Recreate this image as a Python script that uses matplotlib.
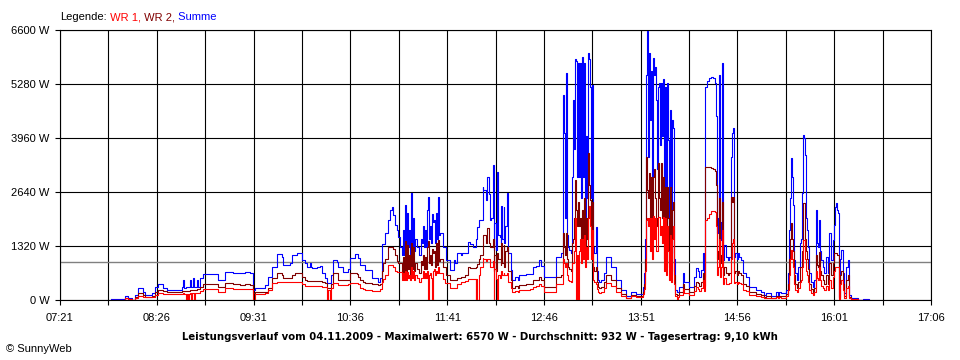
import matplotlib
matplotlib.use('Agg')
import matplotlib.pyplot as plt
import numpy as np

# sample times in minutes after midnight, 04.11.2009
t_min = [
    475.3, 484.0, 484.7, 486.7, 489.4, 491.4, 493.5, 496.1, 496.8, 498.2,
    501.5, 502.9, 504.9, 506.9, 509.6, 510.3, 512.9, 521.7, 523.0, 523.7,
    524.4, 525.7, 526.4, 527.1, 527.7, 528.4, 529.1, 529.8, 530.4, 531.1,
    531.8, 533.1, 533.8, 535.1, 537.2, 546.6, 547.2, 550.6, 552.0, 557.3,
    562.0, 565.4, 568.8, 570.8, 572.1, 577.5,
    578.8, 580.9, 583.5, 585.6, 586.9, 588.9, 590.3, 590.9, 594.3, 595.7,
    597.0, 599.0, 600.4, 603.1, 603.7, 605.7, 607.1, 609.1, 609.8, 610.4,
    612.5, 613.8, 615.8, 617.2, 619.2, 620.5, 621.2, 622.5, 623.2, 624.6,
    627.3, 627.9, 630.6, 631.3, 634.0, 634.7, 636.0, 638.0, 639.4, 640.7,
    641.4, 642.7, 644.7, 646.1, 649.4, 650.8, 654.2, 654.8, 656.2, 657.5,
    658.2, 659.5, 661.5, 662.9, 664.2, 664.9, 666.3, 667.6, 668.3, 669.6,
    671.0, 671.6, 672.3, 673.0, 673.7, 674.3, 675.0, 675.7, 676.3, 677.0,
    677.7, 678.4, 679.0, 679.7, 681.1, 682.4, 683.1, 683.7, 684.4, 685.1,
    685.8, 686.4, 687.1, 687.8, 688.4, 689.1, 689.8, 690.5, 691.1, 691.8,
    692.5, 693.2, 693.8, 694.5, 695.2, 695.8, 696.5, 697.9, 698.5, 699.9,
    700.5, 701.9, 703.2, 704.6, 705.3, 706.6, 707.9, 710.0, 711.3, 713.3,
    714.7, 716.7, 718.0, 718.7, 720.1, 720.7, 721.4, 722.1, 723.4, 724.8,
    725.4, 726.8, 728.1, 728.8, 730.1, 730.8, 731.5, 732.2, 732.8, 733.5,
    734.8, 735.5, 736.2, 736.9, 737.5, 738.2, 738.9, 739.5, 740.2, 740.9,
    741.6, 742.2, 743.6, 744.9, 746.9, 748.3, 749.0, 753.7, 757.0, 758.4,
    760.4, 762.4, 763.8, 765.8, 772.5, 773.8, 775.9, 777.2, 778.5, 779.2,
    779.9, 780.6, 781.2, 781.9, 782.6, 783.9, 784.6, 785.3, 785.9, 786.6,
    787.3, 788.0, 788.6, 789.3, 790.0, 790.7, 791.3, 792.0, 792.7, 793.3,
    794.0, 794.7, 795.4, 796.0, 796.7, 797.4, 798.0, 798.7, 799.4, 800.7,
    801.4, 802.1, 802.8,
    804.1, 805.4, 806.1, 807.5, 809.5, 810.8, 812.8, 814.2, 816.2, 817.5,
    819.6, 820.9, 822.9, 824.3, 826.3, 827.6, 831.0, 832.3, 833.0, 833.7,
    834.4, 835.0, 835.7, 836.4, 837.0, 837.7, 838.4, 839.1, 839.7, 840.4,
    841.1, 841.7, 842.4, 843.1, 843.8, 844.4, 845.1, 845.8, 846.5, 847.1,
    847.8, 848.5, 849.1, 849.8, 850.5, 851.2, 851.8, 852.5, 853.2, 853.9,
    855.2, 855.9, 856.5, 857.9, 859.2, 859.9, 862.6, 863.3, 866.0, 866.6,
    868.0, 869.3, 870.0, 871.3, 872.7, 873.4, 874.0, 875.4, 876.7, 878.1,
    879.4, 880.1, 880.8, 881.4, 882.1, 882.8, 883.4, 884.1, 884.8, 885.5,
    886.1, 886.8, 888.2, 889.5, 890.2, 891.5, 892.2, 892.9, 893.5, 894.2,
    895.5, 896.2, 896.9, 898.2, 899.6, 901.6, 903.6, 907.0, 908.3, 911.7,
    913.7,
    915.0, 917.1, 918.4, 920.4, 921.8, 923.1, 923.8, 925.1, 927.2, 928.5,
    929.8, 930.5, 931.2, 931.9, 932.5, 933.2, 933.9, 934.5, 935.9, 936.6,
    937.9, 938.6, 939.2, 939.9, 940.6, 941.3, 941.9, 942.6, 943.3, 944.0,
    945.3, 946.6, 947.3, 948.7, 949.3, 950.0, 950.7, 951.4, 952.0, 953.4,
    954.0, 955.4, 956.7, 957.4, 958.8, 960.1, 960.8, 961.4, 962.1, 962.8,
    963.5, 964.1, 964.8, 965.5, 966.8, 967.5, 968.8, 970.2, 970.9, 972.2,
    975.6, 976.9, 980.3, 983.6, 984.3,
]

# Summe (W)
summe = [
    25, 25, 90, 40, 0, 120, 285, 285, 200, 120,
    120, 180, 310, 390, 390, 285, 245, 245, 310, 490,
    300, 320, 320, 310, 310, 490, 320, 320, 540, 320,
    330, 500, 330, 535, 635, 635, 490, 490, 690, 670,
    650, 680, 650, 245, 285, 285,
    367, 570, 815, 815, 1124, 1124, 1059, 855, 855, 896,
    1100, 1100, 1141, 1160, 978, 896, 815, 900, 815, 774,
    774, 800, 830, 660, 540, 415, 415, 415, 600, 978,
    940, 815, 815, 692, 692, 750, 1018, 1018, 1116, 1116,
    1018, 855, 855, 733, 733, 530, 530, 448, 530, 1369,
    1369, 1630, 1955, 2200, 2265, 2077, 1833, 1700, 1548, 1300,
    1100, 1711, 1100, 2322, 1150, 2120, 1300, 1700, 1100, 2607,
    1300, 2000, 1200, 1500, 1300, 1100, 1100, 1500, 1400, 1800,
    1300, 1700, 1300, 2200, 2525, 1500, 1800, 1400, 2100, 1900,
    1955, 1400, 2119, 1500, 2525, 1600, 1630, 1630, 1304, 1304,
    978, 978, 733, 733, 978, 900, 1160, 1100, 1141, 1141,
    1426, 1380, 1380, 1304, 1470, 1500, 1793, 1955, 1955, 2770,
    2700, 2450, 3015, 2600, 1955, 2000, 3300, 1222, 1880, 1222,
    3137, 1600, 1530, 1400, 2300, 1500, 2280, 1400, 1800, 2607,
    1222, 1141, 733, 489, 570, 489, 600, 635, 635, 815,
    840, 978, 840, 570, 570, 1059, 1059, 1141, 5010, 4074,
    2000, 5540, 1600, 1304, 1222, 1141, 3000, 4889, 3700, 5883,
    5850, 3000, 5800, 3000, 5800, 2500, 5948, 3000, 5800, 2000,
    4000, 2500, 6030, 5900, 5214, 2500, 5250, 1304, 1141, 1793,
    700, 489, 450,
    489, 489, 652, 1059, 1059, 815, 815, 489, 489, 244,
    244, 100, 100, 204, 204, 150, 150, 326, 652, 1500,
    5500, 6570, 3500, 6030, 4400, 5600, 3000, 5907, 5500, 5700,
    4900, 3200, 5200, 5300, 3800, 5296, 4000, 5400, 1700, 5214,
    1500, 5300, 3911, 1300, 4644, 1141, 4400, 4200, 1000, 244,
    200, 200, 326, 326, 652, 450, 450, 326, 326, 570,
    774, 700, 570, 733, 1141, 570, 5214, 5350, 5418, 5459,
    5418, 5418, 5300, 4500, 1630, 2000, 5500, 1467, 1900, 5785,
    978, 1350, 1050, 978, 1060, 3500, 4074, 4196, 1060, 1141,
    1000, 1141, 1060, 978, 652, 570, 326, 326, 244, 200,
    122,
    179, 179, 100, 100, 200, 122, 200, 163, 163, 244,
    652, 1711, 2500, 3463, 3000, 2322, 978, 652, 489, 815,
    1385, 1500, 2607, 4033, 3950, 3544, 2000, 1711, 1300, 652,
    448, 326, 489, 2200, 1400, 1300, 1955, 1200, 978, 815,
    652, 1059, 652, 1630, 978, 1467, 1833, 2281, 2363, 2200,
    2120, 81, 1000, 1222, 652, 163, 815, 978, 122, 41,
    41, 0, 24, 24, 0,
]

# WR 2 (W)
wr2 = [
    10, 10, 50, 20, 0, 70, 170, 170, 120, 75,
    75, 110, 200, 244, 244, 210, 195, 195, 220, 230,
    220, 230, 230, 230, 230, 240, 240, 240, 250, 250,
    250, 280, 280, 330, 390, 390, 310, 310, 407, 380,
    367, 380, 367, 180, 200, 200,
    204, 300, 530, 530, 668, 668, 620, 530, 530, 530,
    600, 668, 668, 668, 560, 480, 465, 470, 465, 465,
    465, 470, 465, 440, 420, 300, 300, 300, 400, 652,
    652, 489, 489, 489, 489, 500, 652, 652, 652, 640,
    560, 480, 450, 407, 407, 380, 380, 360, 380, 700,
    896, 1000, 1304, 1304, 1304, 1250, 1100, 950, 896, 896,
    600, 1050, 600, 1450, 650, 1350, 750, 1100, 600, 1390,
    750, 1300, 700, 900, 750, 650, 650, 950, 850, 1100,
    750, 1050, 750, 1300, 1450, 900, 1100, 850, 1250, 1150,
    1200, 800, 1400, 850, 1467, 950, 1000, 1000, 800, 815,
    600, 600, 489, 489, 489, 489, 540, 570, 570, 600,
    815, 790, 790, 790, 800, 800, 870, 1000, 1100, 1467,
    1600, 1400, 1750, 1400, 1300, 1300, 1500, 700, 1100, 700,
    1150, 1000, 1000, 850, 1400, 900, 1350, 800, 1200, 1300,
    750, 700, 500, 300, 350, 300, 360, 380, 390, 480,
    480, 560, 480, 326, 326, 570, 570, 600, 1630, 1300,
    1100, 1630, 1000, 800, 750, 700, 1400, 1500, 2000, 2933,
    2200, 1800, 2400, 1800, 2000, 1300, 2200, 1500, 2500, 1100,
    2000, 1500, 3585, 2800, 2444, 1500, 2400, 800, 700, 800,
    430, 326, 300,
    326, 326, 450, 611, 611, 489, 489, 300, 300, 150,
    150, 50, 50, 120, 120, 90, 90, 200, 400, 1000,
    3502, 2700, 2500, 3096, 2000, 3000, 1700, 3000, 3200, 2500,
    1800, 2000, 3341, 2500, 2200, 3341, 2000, 3000, 1000, 2770,
    900, 2770, 2000, 800, 2770, 700, 2200, 2400, 600, 140,
    120, 120, 200, 200, 380, 270, 270, 200, 200, 340,
    450, 420, 340, 430, 650, 340, 3259, 3259, 3259, 3220,
    3200, 3200, 3150, 2800, 1000, 1200, 2500, 900, 1100, 2400,
    600, 815, 650, 600, 650, 2525, 2400, 2525, 650, 700,
    620, 700, 650, 600, 400, 350, 200, 200, 150, 120,
    80,
    100, 100, 60, 60, 110, 80, 110, 90, 90, 140,
    380, 1000, 1500, 1874, 1500, 1200, 600, 400, 290, 448,
    800, 800, 1200, 2363, 2363, 1500, 1200, 1000, 750, 400,
    280, 200, 300, 1100, 850, 800, 1181, 700, 600, 500,
    400, 600, 400, 900, 600, 900, 1141, 1141, 1141, 1100,
    1100, 50, 600, 700, 400, 100, 500, 600, 80, 20,
    20, 0, 10, 10, 0,
]

# WR 1 (W)
wr1 = [
    10, 10, 40, 20, 0, 50, 105, 105, 80, 65,
    65, 80, 130, 163, 163, 150, 145, 145, 150, 160,
    150, 0, 150, 0, 150, 160, 0, 160, 160, 0,
    170, 180, 180, 220, 270, 270, 205, 205, 285, 265,
    260, 270, 260, 0, 150, 150,
    163, 250, 407, 407, 448, 448, 440, 430, 430, 430,
    440, 448, 448, 448, 400, 350, 342, 345, 342, 342,
    342, 342, 342, 330, 320, 0, 250, 0, 300, 423,
    423, 360, 360, 360, 360, 380, 423, 423, 423, 420,
    380, 300, 280, 244, 244, 230, 230, 220, 280, 450,
    520, 600, 855, 855, 855, 800, 700, 684, 684, 684,
    500, 650, 500, 700, 500, 680, 550, 600, 500, 800,
    550, 700, 500, 600, 550, 450, 450, 550, 550, 700,
    550, 650, 550, 700, 0, 600, 650, 550, 0, 700,
    750, 600, 715, 650, 815, 650, 652, 652, 520, 407,
    407, 407, 285, 285, 285, 285, 400, 430, 450, 470,
    520, 520, 520, 520, 0, 520, 0, 600, 800, 1018,
    1000, 950, 1000, 1000, 800, 800, 950, 0, 770, 520,
    0, 600, 530, 550, 700, 600, 650, 600, 600, 650,
    470, 440, 300, 190, 220, 190, 240, 255, 260, 330,
    340, 380, 340, 204, 204, 400, 400, 400, 1000, 900,
    800, 900, 600, 500, 470, 440, 900, 900, 1200, 2000,
    0, 1100, 0, 1200, 1500, 900, 1500, 1000, 1600, 800,
    1300, 1000, 2000, 2300, 1800, 1000, 1700, 500, 440, 400,
    270, 204, 180,
    204, 204, 300, 407, 407, 350, 350, 200, 200, 100,
    100, 50, 50, 90, 90, 70, 70, 150, 280, 700,
    1955, 2000, 1800, 2000, 1200, 2000, 1000, 2050, 1500, 2000,
    1200, 1200, 2037, 2037, 1600, 1800, 1400, 2037, 700, 2000,
    600, 1800, 1200, 500, 1600, 440, 1500, 1800, 400, 100,
    0, 80, 130, 130, 270, 180, 180, 130, 130, 230,
    320, 280, 230, 300, 489, 230, 1955, 2000, 2100, 2183,
    2183, 2183, 2150, 1800, 600, 800, 1500, 560, 800, 1700,
    400, 535, 400, 380, 410, 1000, 1400, 1500, 410, 440,
    400, 440, 410, 380, 250, 220, 130, 130, 100, 80,
    50,
    60, 60, 40, 40, 70, 50, 70, 60, 60, 90,
    244, 600, 1000, 1222, 1000, 800, 400, 244, 200, 300,
    450, 500, 800, 1467, 1467, 1000, 700, 600, 450, 244,
    170, 130, 190, 700, 550, 500, 815, 500, 350, 300,
    244, 350, 244, 500, 300, 560, 700, 815, 815, 800,
    800, 30, 400, 500, 244, 60, 300, 350, 50, 20,
    20, 0, 10, 10, 0,
]

average_w = 932
y_ticks = [0, 1320, 2640, 3960, 5280, 6600]
x_start, x_end, x_step = 441, 1026, 32.5   # 07:21 .. 17:06
title = ('Leistungsverlauf vom 04.11.2009 - Maximalwert: 6570 W - '
         'Durchschnitt: 932 W - Tagesertrag: 9,10 kWh')
legend_parts = [('Legende:', 'black'), (' WR 1,', '#FF0000'),
                (' WR 2,', '#800000'), (' Summe', '#0000FF')]

plt.rcParams['font.family'] = ['Liberation Sans', 'DejaVu Sans']

fig = plt.figure(figsize=(9.6, 3.6), dpi=100, facecolor='white')
ax = fig.add_axes([60 / 960, 60 / 360, 871 / 960, 270 / 360])

ax.plot(t_min, summe, color='#0000FF', lw=0.8, drawstyle='steps-post', zorder=3)
ax.plot(t_min, wr2, color='#800000', lw=0.8, drawstyle='steps-post', zorder=4)
ax.plot(t_min, wr1, color='#FF0000', lw=0.8, drawstyle='steps-post', zorder=5)
ax.axhline(average_w, color='#808080', lw=1.0, zorder=2)

ax.set_xlim(x_start, x_end)
ax.set_ylim(0, 6600)

xt = np.arange(x_start, x_end + 1, x_step)
ax.set_xticks(xt)
ax.set_xticklabels([f'{int(m // 60):02d}:{int(m % 60):02d}' if i % 2 == 0 else ''
                    for i, m in enumerate(xt)])
ax.set_yticks(y_ticks)
ax.set_yticklabels([f'{v} W' for v in y_ticks])
ax.tick_params(axis='both', direction='out', length=3.6, width=0.8,
               color='black', labelsize=8, pad=4)
ax.tick_params(axis='x', pad=6)

ax.grid(True, color='black', lw=0.8, zorder=1)
ax.set_axisbelow(True)
for s in ax.spines.values():
    s.set_color('black')
    s.set_linewidth(0.8)

fig.text(0.5, 1 - 337 / 360, title, ha='center', va='center',
         fontsize=7.3, fontweight='bold', family='DejaVu Sans')
fig.text(6 / 960, 1 - 349 / 360, '© SunnyWeb', ha='left', va='center', fontsize=8)

# multicoloured legend line
renderer = fig.canvas.get_renderer()
x = 60 / 960
for txt, col in legend_parts:
    t = fig.text(x, 1 - 17 / 360, txt, color=col, ha='left', va='center', fontsize=8)
    bb = t.get_window_extent(renderer)
    x = bb.x1 / fig.bbox.width

fig.savefig('out.png', dpi=100, facecolor='white')
